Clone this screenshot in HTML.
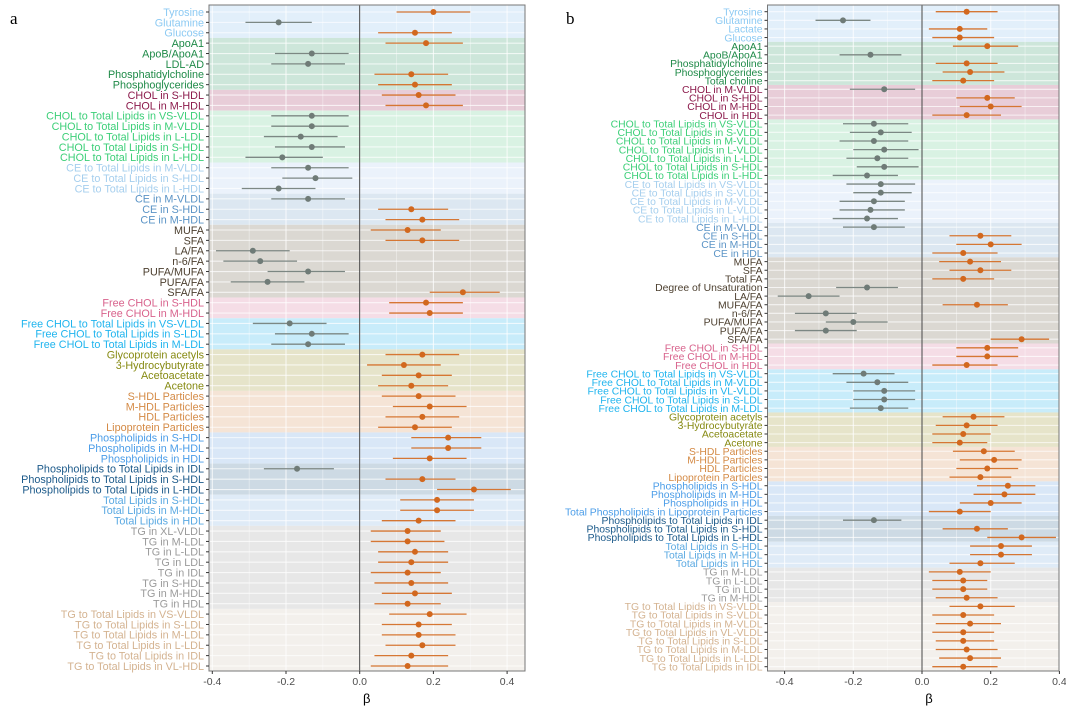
<!DOCTYPE html>
<html><head><meta charset="utf-8"><style>
body{margin:0;background:#fff;width:1066px;height:711px;overflow:hidden}
svg{position:absolute;left:0;top:0}
text{font-family:"Liberation Sans",sans-serif}
</style></head><body>
<svg id="chart" width="1066" height="711"></svg>
<script>
// ---------- Panel a data ----------
const labelsA=["Tyrosine","Glutamine","Glucose","ApoA1","ApoB/ApoA1","LDL-AD","Phosphatidylcholine","Phosphoglycerides","CHOL in S-HDL","CHOL in M-HDL","CHOL to Total Lipids in VS-VLDL","CHOL to Total Lipids in M-VLDL","CHOL to Total Lipids in L-LDL","CHOL to Total Lipids in S-HDL","CHOL to Total Lipids in L-HDL","CE to Total Lipids in M-VLDL","CE to Total Lipids in S-HDL","CE to Total Lipids in L-HDL","CE in M-VLDL","CE in S-HDL","CE in M-HDL","MUFA","SFA","LA/FA","n-6/FA","PUFA/MUFA","PUFA/FA","SFA/FA","Free CHOL in S-HDL","Free CHOL in M-HDL","Free CHOL to Total Lipids in VS-VLDL","Free CHOL to Total Lipids in S-LDL","Free CHOL to Total Lipids in M-LDL","Glycoprotein acetyls","3-Hydrocybutyrate","Acetoacetate","Acetone","S-HDL Particles","M-HDL Particles","HDL Particles","Lipoprotein Particles","Phospholipids in S-HDL","Phospholipids in M-HDL","Phospholipids in HDL","Phospholipids to Total Lipids in IDL","Phospholipids to Total Lipids in S-HDL","Phospholipids to Total Lipids in L-HDL","Total Lipids in S-HDL","Total Lipids in M-HDL","Total Lipids in HDL","TG in XL-VLDL","TG in M-LDL","TG in L-LDL","TG in LDL","TG in IDL","TG in S-HDL","TG in M-HDL","TG in HDL","TG to Total Lipids in VS-VLDL","TG to Total Lipids in S-LDL","TG to Total Lipids in M-LDL","TG to Total Lipids in L-LDL","TG to Total Lipids in IDL","TG to Total Lipids in VL-HDL"];
const estA=[0.20,-0.22,0.15,0.18,-0.13,-0.14,0.14,0.15,0.16,0.18,-0.13,-0.13,-0.16,-0.13,-0.21,-0.14,-0.12,-0.22,-0.14,0.14,0.17,0.13,0.17,-0.29,-0.27,-0.14,-0.25,0.28,0.18,0.19,-0.19,-0.13,-0.14,0.17,0.12,0.16,0.14,0.16,0.19,0.17,0.15,0.24,0.24,0.19,-0.17,0.17,0.31,0.21,0.21,0.16,0.13,0.13,0.15,0.14,0.13,0.14,0.15,0.13,0.19,0.16,0.16,0.17,0.14,0.13];
const loA=[0.10,-0.31,0.05,0.07,-0.23,-0.24,0.04,0.05,0.06,0.07,-0.24,-0.24,-0.26,-0.23,-0.31,-0.24,-0.21,-0.32,-0.24,0.05,0.07,0.03,0.07,-0.39,-0.37,-0.25,-0.35,0.19,0.08,0.08,-0.29,-0.23,-0.24,0.07,0.02,0.06,0.05,0.06,0.09,0.07,0.05,0.14,0.14,0.09,-0.26,0.07,0.21,0.11,0.11,0.06,0.03,0.03,0.05,0.05,0.03,0.04,0.06,0.04,0.08,0.06,0.06,0.07,0.04,0.03];
const hiA=[0.30,-0.13,0.25,0.28,-0.03,-0.04,0.24,0.25,0.26,0.28,-0.03,-0.03,-0.06,-0.04,-0.10,-0.03,-0.02,-0.12,-0.04,0.24,0.27,0.22,0.27,-0.19,-0.17,-0.04,-0.15,0.38,0.28,0.28,-0.09,-0.03,-0.04,0.27,0.22,0.25,0.24,0.26,0.29,0.27,0.25,0.33,0.33,0.29,-0.07,0.26,0.41,0.31,0.31,0.26,0.22,0.23,0.24,0.24,0.22,0.24,0.25,0.22,0.29,0.25,0.26,0.26,0.24,0.24];
const groupsA=[3,5,2,5,3,3,7,2,3,4,4,3,3,3,8,6];
// ---------- Panel b data ----------
const labelsB=["Tyrosine","Glutamine","Lactate","Glucose","ApoA1","ApoB/ApoA1","Phosphatidylcholine","Phosphoglycerides","Total choline","CHOL in M-VLDL","CHOL in S-HDL","CHOL in M-HDL","CHOL in HDL","CHOL to Total Lipids in VS-VLDL","CHOL to Total Lipids in S-VLDL","CHOL to Total Lipids in M-VLDL","CHOL to Total Lipids in L-VLDL","CHOL to Total Lipids in L-LDL","CHOL to Total Lipids in S-HDL","CHOL to Total Lipids in L-HDL","CE to Total Lipids in VS-VLDL","CE to Total Lipids in S-VLDL","CE to Total Lipids in M-VLDL","CE to Total Lipids in L-VLDL","CE to Total Lipids in L-HDL","CE in M-VLDL","CE in S-HDL","CE in M-HDL","CE in HDL","MUFA","SFA","Total FA","Degree of Unsaturation","LA/FA","MUFA/FA","n-6/FA","PUFA/MUFA","PUFA/FA","SFA/FA","Free CHOL in S-HDL","Free CHOL in M-HDL","Free CHOL in HDL","Free CHOL to Total Lipids in VS-VLDL","Free CHOL to Total Lipids in M-VLDL","Free CHOL to Total Lipids in VL-VLDL","Free CHOL to Total Lipids in S-LDL","Free CHOL to Total Lipids in M-LDL","Glycoprotein acetyls","3-Hydrocybutyrate","Acetoacetate","Acetone","S-HDL Particles","M-HDL Particles","HDL Particles","Lipoprotein Particles","Phospholipids in S-HDL","Phospholipids in M-HDL","Phospholipids in HDL","Total Phospholipids in Lipoprotein Particles","Phospholipids to Total Lipids in IDL","Phospholipids to Total Lipids in S-HDL","Phospholipids to Total Lipids in L-HDL","Total Lipids in S-HDL","Total Lipids in M-HDL","Total Lipids in HDL","TG in M-LDL","TG in L-LDL","TG in LDL","TG in M-HDL","TG to Total Lipids in VS-VLDL","TG to Total Lipids in S-VLDL","TG to Total Lipids in M-VLDL","TG to Total Lipids in VL-VLDL","TG to Total Lipids in S-LDL","TG to Total Lipids in M-LDL","TG to Total Lipids in L-LDL","TG to Total Lipids in IDL"];
const estB=[0.13,-0.23,0.11,0.11,0.19,-0.15,0.13,0.14,0.12,-0.11,0.19,0.20,0.13,-0.14,-0.12,-0.14,-0.11,-0.13,-0.11,-0.16,-0.12,-0.12,-0.14,-0.15,-0.16,-0.14,0.17,0.20,0.12,0.14,0.17,0.12,-0.16,-0.33,0.16,-0.28,-0.20,-0.28,0.29,0.19,0.19,0.13,-0.17,-0.13,-0.11,-0.11,-0.12,0.15,0.13,0.12,0.11,0.18,0.21,0.19,0.17,0.25,0.24,0.20,0.11,-0.14,0.16,0.29,0.23,0.23,0.17,0.11,0.12,0.12,0.13,0.17,0.12,0.14,0.12,0.12,0.13,0.14,0.12];
const loB=[0.04,-0.31,0.02,0.03,0.09,-0.24,0.04,0.06,0.03,-0.21,0.10,0.11,0.03,-0.23,-0.21,-0.24,-0.20,-0.22,-0.19,-0.26,-0.22,-0.20,-0.24,-0.24,-0.26,-0.23,0.08,0.10,0.03,0.05,0.08,0.03,-0.25,-0.42,0.06,-0.37,-0.28,-0.37,0.20,0.10,0.10,0.03,-0.26,-0.22,-0.20,-0.20,-0.21,0.06,0.04,0.03,0.03,0.09,0.11,0.10,0.08,0.16,0.15,0.11,0.02,-0.23,0.06,0.19,0.14,0.14,0.08,0.02,0.03,0.03,0.04,0.08,0.03,0.04,0.03,0.04,0.04,0.05,0.03];
const hiB=[0.22,-0.15,0.19,0.21,0.28,-0.06,0.22,0.24,0.21,-0.02,0.27,0.29,0.23,-0.04,-0.03,-0.04,-0.01,-0.04,-0.01,-0.07,-0.02,-0.03,-0.05,-0.05,-0.07,-0.05,0.26,0.29,0.22,0.23,0.26,0.21,-0.07,-0.24,0.25,-0.19,-0.10,-0.19,0.37,0.28,0.28,0.22,-0.08,-0.04,-0.02,-0.02,-0.04,0.24,0.22,0.20,0.19,0.27,0.29,0.28,0.26,0.33,0.33,0.29,0.20,-0.06,0.25,0.39,0.32,0.32,0.27,0.20,0.19,0.19,0.22,0.27,0.21,0.23,0.21,0.21,0.22,0.23,0.22];
const groupsB=[4,5,4,7,5,4,10,3,5,4,4,4,3,3,4,8];
const bandFill=["#e2effa","#cde6da","#e8cdd8","#d9f2e3","#ebf2fb","#dce7f1","#dbd8d2","#f5dde6","#c8ecfa","#e6e4ca","#f5e4d6","#d9e7f7","#cddae4","#dfebf7","#e7e7e7","#f3f0ec"];
const textCol=["#8ccaf3","#1f8a48","#8b1a4b","#3ccf78","#a6cfee","#5b94c6","#4d4030","#d8628c","#1fb4ee","#868a12","#d48a45","#4b9de8","#1c5a8a","#5aa9e2","#9a9a9a","#d4b391"];

const NS="http://www.w3.org/2000/svg";
const svg=document.getElementById('chart');
function el(tag,attrs,parent){const e=document.createElementNS(NS,tag);for(const k in attrs)e.setAttribute(k,attrs[k]);(parent||svg).appendChild(e);return e;}

function panel(cfg,labels,est,lo,hi,groups){
  const g=el('g',{});
  
  
  const x=v=>cfg.zero+v*cfg.scale;
  const n=labels.length;
  const step=(cfg.yLast-cfg.yFirst)/(n-1);
  const y=i=>cfg.yFirst+i*step;
  let start=0;
  const rowGroup=[];
  groups.forEach((cnt,gi)=>{
    const y0=gi===0?cfg.top:y(start)-step/2;
    const y1=gi===groups.length-1?cfg.bottom:y(start+cnt-1)+step/2;
    const r=el('rect',{x:cfg.left,y:y0,width:cfg.right-cfg.left,height:y1-y0,fill:bandFill[gi]},g);
    
    
    for(let k=0;k<cnt;k++)rowGroup.push(gi);
    start+=cnt;
  });
  cfg.minor.forEach(v=>{const l=el('line',{x1:x(v),x2:x(v),y1:cfg.top,y2:cfg.bottom,stroke:"#fff",'stroke-width':0.6,'stroke-opacity':0.6},g);});
  cfg.ticks.forEach(v=>{const l=el('line',{x1:x(v),x2:x(v),y1:cfg.top,y2:cfg.bottom,stroke:"#fff",'stroke-width':1.1,'stroke-opacity':0.75},g);});
  for(let i=0;i<n;i++){const l=el('line',{x1:cfg.left,x2:cfg.right,y1:y(i),y2:y(i),stroke:"#fff",'stroke-width':1.1,'stroke-opacity':0.7},g);}
  const z=el('line',{x1:x(0),x2:x(0),y1:cfg.top,y2:cfg.bottom,stroke:"#333",'stroke-width':0.9},g);
  
  
  const b=el('rect',{x:cfg.left,y:cfg.top,width:cfg.right-cfg.left,height:cfg.bottom-cfg.top,fill:"none",stroke:"#777",'stroke-width':1},g);
  
  
  for(let i=0;i<n;i++){
    const c=est[i]<0?"#6f7b77":"#d2681e";
    const ci=el('line',{x1:x(lo[i]),x2:x(hi[i]),y1:y(i),y2:y(i),stroke:c,'stroke-width':1.3,'stroke-opacity':0.9},g);
    
    
    const p=el('circle',{cx:x(est[i]),cy:y(i),r:cfg.r,fill:c},g);
    
    
    const tk=el('line',{x1:cfg.left-3,x2:cfg.left,y1:y(i),y2:y(i),stroke:"#333",'stroke-width':1},g);
    
    
    const t=el('text',{x:cfg.left-5,y:y(i)+cfg.fs*0.36,'text-anchor':'end','font-size':cfg.fs,fill:textCol[rowGroup[i]]},g);
    t.textContent=labels[i];
    
    
  }
  cfg.ticks.forEach(v=>{
    const tk=el('line',{x1:x(v),x2:x(v),y1:cfg.bottom,y2:cfg.bottom+3,stroke:"#333",'stroke-width':1},g);
    
    
    const t=el('text',{x:x(v),y:cfg.bottom+14,'text-anchor':'middle','font-size':10.5,fill:"#4d4d4d"},g);
    t.textContent=v.toFixed(1);
    
    
  });
  const at=el('text',{x:x(0)+7,y:cfg.bottom+32,'text-anchor':'middle','font-size':13,fill:"#000"},g);
  at.textContent="β";
  
  
  const pl=el('text',{x:cfg.tagX,y:24,'font-size':17,fill:"#000",style:'font-family:"Liberation Serif",serif'},g);
  pl.textContent=cfg.tag;
  
  
}
panel({name:'panel-a',zero:359.7,scale:368.5,left:209,right:525,top:5,bottom:671,yFirst:12,yLast:666,r:3,fs:10.8,
  ticks:[-0.4,-0.2,0,0.2,0.4],minor:[-0.3,-0.1,0.1,0.3],tag:'a',tagX:10},labelsA,estA,loA,hiA,groupsA);
panel({name:'panel-b',zero:922,scale:343.5,left:767.5,right:1059,top:5,bottom:671,yFirst:11.7,yLast:666.7,r:3,fs:10.4,
  ticks:[-0.4,-0.2,0,0.2,0.4],minor:[-0.3,-0.1,0.1,0.3],tag:'b',tagX:566},labelsB,estB,loB,hiB,groupsB);
</script>
</body></html>
